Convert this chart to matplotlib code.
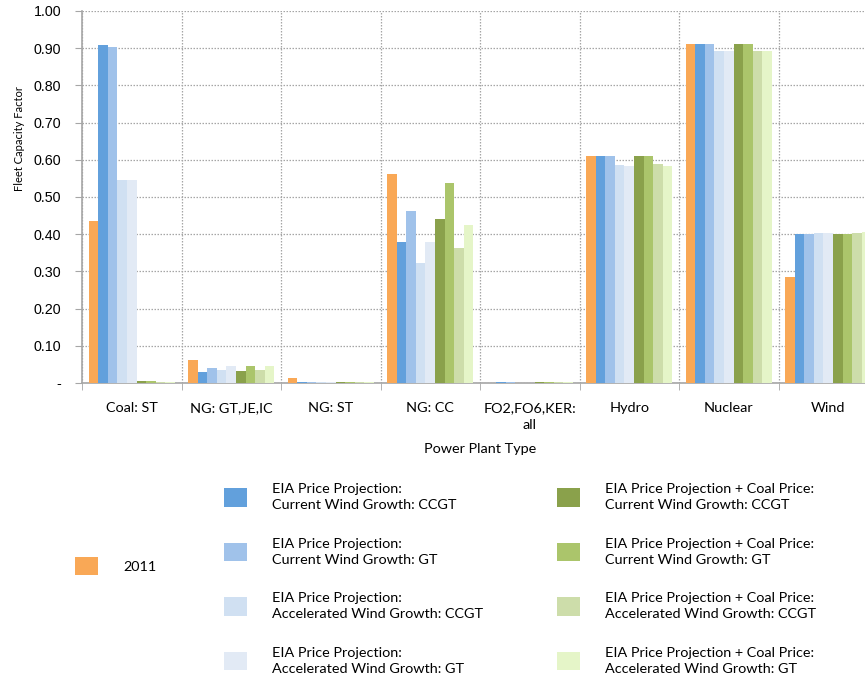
import matplotlib
matplotlib.use("Agg")
import matplotlib.pyplot as plt
import numpy as np

plt.rcParams["font.family"] = ["Lato", "DejaVu Sans"]

categories = ["Coal: ST", "NG: GT,JE,IC", "NG: ST", "NG: CC", "FO2,FO6,KER:\nall",
              "Hydro", "Nuclear", "Wind"]

series_labels = [
    "2011",
    "EIA Price Projection:\nCurrent Wind Growth: CCGT",
    "EIA Price Projection:\nCurrent Wind Growth: GT",
    "EIA Price Projection:\nAccelerated Wind Growth: CCGT",
    "EIA Price Projection:\nAccelerated Wind Growth: GT",
    "EIA Price Projection + Coal Price:\nCurrent Wind Growth: CCGT",
    "EIA Price Projection + Coal Price:\nCurrent Wind Growth: GT",
    "EIA Price Projection + Coal Price:\nAccelerated Wind Growth: CCGT",
    "EIA Price Projection + Coal Price:\nAccelerated Wind Growth: GT",
]

# one list per series, one value per power plant type
v_2011 = [0.435, 0.061, 0.014, 0.563, 0.000, 0.610, 0.910, 0.285]
v_eia_cur_ccgt = [0.908, 0.029, 0.004, 0.379, 0.002, 0.610, 0.910, 0.400]
v_eia_cur_gt = [0.902, 0.040, 0.004, 0.462, 0.002, 0.610, 0.910, 0.400]
v_eia_acc_ccgt = [0.545, 0.035, 0.002, 0.322, 0.001, 0.586, 0.892, 0.403]
v_eia_acc_gt = [0.545, 0.047, 0.002, 0.379, 0.001, 0.584, 0.892, 0.403]
v_coal_cur_ccgt = [0.006, 0.031, 0.003, 0.440, 0.003, 0.610, 0.910, 0.400]
v_coal_cur_gt = [0.006, 0.047, 0.003, 0.538, 0.003, 0.610, 0.910, 0.400]
v_coal_acc_ccgt = [0.004, 0.035, 0.002, 0.362, 0.002, 0.588, 0.892, 0.403]
v_coal_acc_gt = [0.004, 0.047, 0.002, 0.424, 0.002, 0.584, 0.892, 0.406]

values = [v_2011, v_eia_cur_ccgt, v_eia_cur_gt, v_eia_acc_ccgt, v_eia_acc_gt,
          v_coal_cur_ccgt, v_coal_cur_gt, v_coal_acc_ccgt, v_coal_acc_gt]

colors = ["#F9A856", "#62A0DC", "#A0C2EA", "#D0E0F2", "#E2EAF5",
          "#8AA14B", "#ABC56B", "#CDDDAA", "#E5F5C8"]

fig = plt.figure(figsize=(8.65, 6.85), dpi=100)
# right edge of the plot runs past the figure, as in the original crop
ax = fig.add_axes([82 / 865, 1 - 383 / 685, 796 / 865, 372 / 685])

x = np.arange(len(categories))
w = 0.0965
bars = []
for i, (vals, col) in enumerate(zip(values, colors)):
    b = ax.bar(x + (i - 4) * w, vals, width=w, color=col, linewidth=0, zorder=3)
    bars.append(b)

ax.set_xlim(-0.5, len(categories) - 0.5)
ax.set_ylim(0, 1.0)
yt = np.arange(0, 1.01, 0.1)
ax.set_yticks(yt)
ax.set_yticklabels(["-"] + [f"{t:.2f}" for t in yt[1:]], fontsize=10.3,
                   family="Liberation Sans")
ax.set_xticks(x)
ax.set_xticklabels(categories, fontsize=10.4, linespacing=1.5)
ax.set_xticks(np.arange(-0.5, len(categories)), minor=True)
ax.tick_params(axis="x", which="major", length=0, pad=14)
ax.tick_params(axis="x", which="minor", length=5, color="#A6A6A6")
ax.tick_params(axis="y", length=5, color="#A6A6A6", pad=10)

ax.grid(axis="y", which="major", color="#A6A6A6", linestyle=(0, (1.2, 1.2)), linewidth=0.9, zorder=0)
ax.grid(axis="x", which="minor", color="#A6A6A6", linestyle=(0, (1.2, 1.2)), linewidth=0.9, zorder=0)
ax.grid(axis="x", which="major", visible=False)
for s in ["top", "right"]:
    ax.spines[s].set_visible(False)
for s in ["left", "bottom"]:
    ax.spines[s].set_color("#A6A6A6")
    ax.spines[s].set_linewidth(1.2)

ax.set_xlabel("Power Plant Type", fontsize=10.4, labelpad=8)
ax.set_ylabel("Fleet Capacity Factor", fontsize=8.0)
ax.yaxis.set_label_coords(-0.071, 0.656)

common = dict(frameon=False, fontsize=10.4, handlelength=1.6, handleheight=1.6,
              handletextpad=1.75, borderpad=0, borderaxespad=0, labelspacing=1.82)
legs = [
    fig.legend([bars[0]], [series_labels[0]], loc="center left",
               bbox_to_anchor=(75 / 865, 1 - 566 / 685), **common),
    fig.legend(bars[1:5], series_labels[1:5], loc="center left",
               bbox_to_anchor=(224 / 865, 1 - 579 / 685), **common),
    fig.legend(bars[5:9], series_labels[5:9], loc="center left",
               bbox_to_anchor=(557 / 865, 1 - 579 / 685), **common),
]
for leg in legs:
    for t in leg.get_texts():
        t.set_linespacing(1.42)

fig.savefig("out.png", dpi=100)
